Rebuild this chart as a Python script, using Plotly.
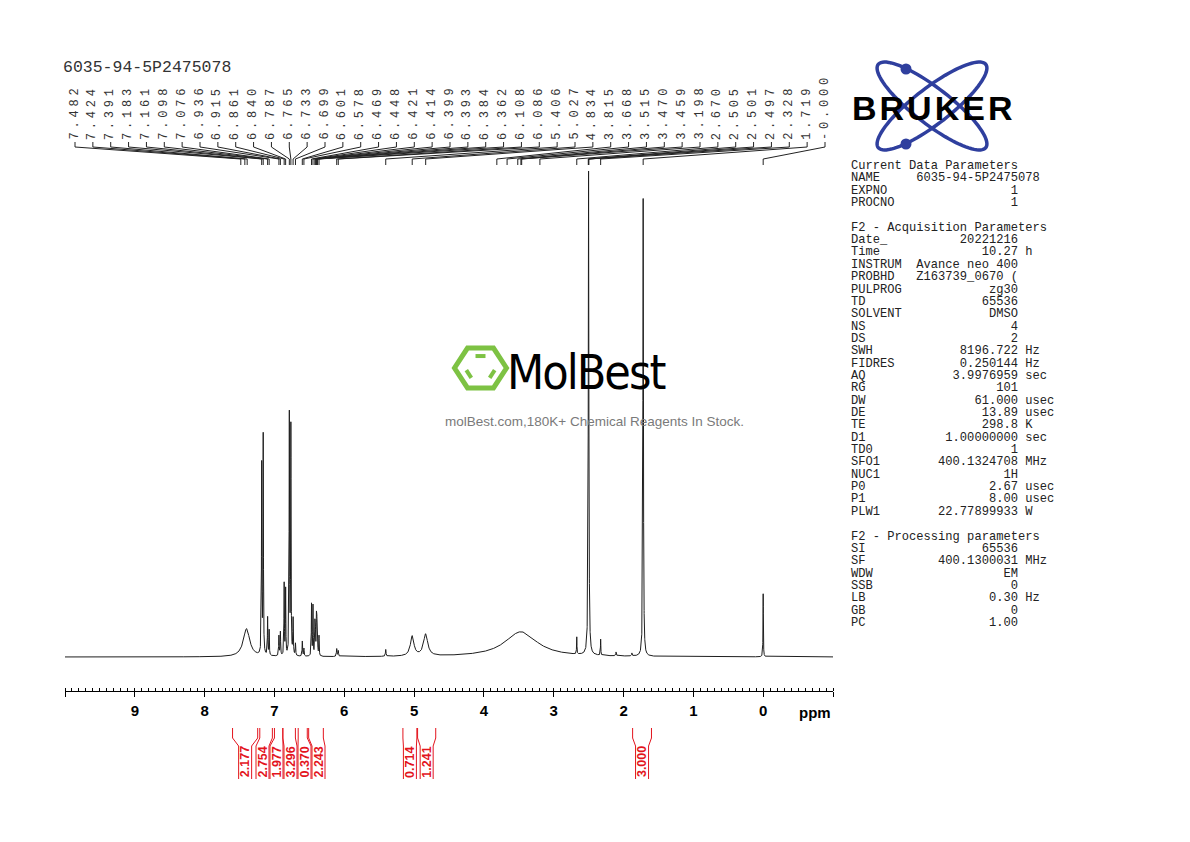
import numpy as np
import plotly.graph_objects as go

# ---------------- data ----------------
SAMPLE = "6035-94-5P2475078"

# modelled 1H spectrum: centre (ppm), height (DMSO peak = 100), half width (ppm)
peak_ppm = [7.400, 7.183, 7.161, 7.098, 7.076, 6.936, 6.915, 6.861, 6.840,
            6.787, 6.765, 6.733, 6.699, 6.601, 6.578, 6.469, 6.448, 6.421,
            6.414, 6.399, 6.393, 6.384, 6.362, 6.108, 6.086, 5.406, 5.027,
            4.834, 3.470, 2.670, 2.501, 2.328, 2.107, 1.880, 1.719, 0.000]
peak_height = [5.8, 39.0, 45.0, 7.8, 5.2, 4.1, 4.9, 14.8, 13.6,
               49.5, 47.0, 7.4, 2.5, 3.1, 1.6, 10.7, 10.3, 6.2,
               5.2, 7.0, 6.2, 4.5, 4.1, 1.6, 1.2, 1.4, 4.1,
               4.5, 5.2, 3.5, 99.8, 3.3, 0.8, 0.6, 94.4, 13.0]
peak_hwhm = [0.055, 0.0035, 0.0035, 0.0035, 0.0035, 0.004, 0.004, 0.0035, 0.0035,
             0.0035, 0.0035, 0.004, 0.004, 0.004, 0.004, 0.0035, 0.0035, 0.0035,
             0.0035, 0.0035, 0.0035, 0.0035, 0.0035, 0.005, 0.005, 0.005, 0.03,
             0.035, 0.28, 0.003, 0.005, 0.003, 0.005, 0.005, 0.0045, 0.003]

# picked peak labels (top)
pick_labels = ["7.482", "7.424", "7.391", "7.183", "7.161", "7.098", "7.076",
               "6.936", "6.915", "6.861", "6.840", "6.787", "6.765", "6.733",
               "6.699", "6.601", "6.578", "6.469", "6.448", "6.421", "6.414",
               "6.399", "6.393", "6.384", "6.362", "6.108", "6.086", "5.406",
               "5.027", "4.834", "3.815", "3.668", "3.515", "3.470", "3.459",
               "3.198", "2.670", "2.505", "2.501", "2.497", "2.328", "1.719",
               "-0.000"]

# integrals (bottom, red)
integ_start = [7.60, 7.21, 7.00, 6.88, 6.66, 6.51, 5.16, 4.95, 1.87]
integ_end = [7.24, 7.03, 6.88, 6.70, 6.53, 6.30, 4.96, 4.69, 1.60]
integ_values = ["2.177", "2.754", "1.977", "3.296", "0.370", "2.243",
                "0.714", "1.241", "3.000"]

axis_ticks = [9, 8, 7, 6, 5, 4, 3, 2, 1, 0]

param_rows = [
    ("Current Data Parameters",),
    ("NAME", "6035-94-5P2475078", ""),
    ("EXPNO", "1", ""),
    ("PROCNO", "1", ""),
    None,
    ("F2 - Acquisition Parameters",),
    ("Date_", "20221216", ""),
    ("Time", "10.27", "h"),
    ("INSTRUM", "Avance neo 400", ""),
    ("PROBHD", "Z163739_0670 (", ""),
    ("PULPROG", "zg30", ""),
    ("TD", "65536", ""),
    ("SOLVENT", "DMSO", ""),
    ("NS", "4", ""),
    ("DS", "2", ""),
    ("SWH", "8196.722", "Hz"),
    ("FIDRES", "0.250144", "Hz"),
    ("AQ", "3.9976959", "sec"),
    ("RG", "101", ""),
    ("DW", "61.000", "usec"),
    ("DE", "13.89", "usec"),
    ("TE", "298.8", "K"),
    ("D1", "1.00000000", "sec"),
    ("TD0", "1", ""),
    ("SFO1", "400.1324708", "MHz"),
    ("NUC1", "1H", ""),
    ("P0", "2.67", "usec"),
    ("P1", "8.00", "usec"),
    ("PLW1", "22.77899933", "W"),
    None,
    ("F2 - Processing parameters",),
    ("SI", "65536", ""),
    ("SF", "400.1300031", "MHz"),
    ("WDW", "EM", ""),
    ("SSB", "0", ""),
    ("LB", "0.30", "Hz"),
    ("GB", "0", ""),
    ("PC", "1.00", ""),
]

# ---------------- layout constants (pixels) ----------------
W, H = 1190, 842
PL, PR = 65, 833          # plot area left / right
PT, PB = 40, 691          # plot area top / bottom (axis line)
X_HI, X_LO = 10.0, -1.0
BASE_PY = 657             # baseline pixel row
PX_PER_UNIT = 4.85        # intensity unit -> pixels
RED = "#e3141d"
MONO = "Liberation Mono, DejaVu Sans Mono, monospace"
SANS = "Liberation Sans, Arial, sans-serif"


def px2ppm(px):
    return X_HI - (px - PL) * (X_HI - X_LO) / (PR - PL)


def ppm2px(p):
    return PL + (X_HI - p) * (PR - PL) / (X_HI - X_LO)


def xp(px):
    return (px - PL) / (PR - PL)


def yp(py):
    return (PB - py) / (PB - PT)


# ---------------- spectrum ----------------
xs = np.arange(X_LO, X_HI + 1e-9, 0.0005)
ys = np.zeros_like(xs)
for c, h, w in zip(peak_ppm, peak_height, peak_hwhm):
    ys += h / (1.0 + ((xs - c) / w) ** 2)

fig = go.Figure()
fig.add_trace(go.Scatter(x=xs, y=ys, mode="lines",
                         line=dict(color="#1e1e1e", width=1),
                         hoverinfo="skip", showlegend=False))

shapes = []
annotations = []

# ---------------- peak picking labels ----------------
n = len(pick_labels)
lab_px = np.linspace(75, 825, n)
for lbl, lx in zip(pick_labels, lab_px):
    pk = float(lbl)
    lx_ppm = px2ppm(lx)
    path = (f"M {lx_ppm},{yp(142)} L {lx_ppm},{yp(147)} "
            f"L {pk},{yp(159)} L {pk},{yp(165)}")
    shapes.append(dict(type="path", path=path, xref="x", yref="paper",
                       line=dict(color="#222222", width=1)))
    annotations.append(dict(
        x=xp(lx), y=yp(141), xref="paper", yref="paper",
        text=f'<span style="letter-spacing:3.8px">{lbl}</span>',
        textangle=-90, showarrow=False, xanchor="center", yanchor="bottom",
        borderpad=0, font=dict(family=MONO, size=12, color="#333333")))

# ---------------- integrals ----------------
mids = [ppm2px((a + b) / 2) for a, b in zip(integ_start, integ_end)]
GAP = 14.0


def spread(centers, gap):
    clusters = [[i] for i in range(len(centers))]

    def place(cl):
        m = np.mean([centers[i] for i in cl])
        k = len(cl)
        return [m + (j - (k - 1) / 2) * gap for j in range(k)]
    changed = True
    while changed:
        changed = False
        for i in range(len(clusters) - 1):
            a, b = place(clusters[i]), place(clusters[i + 1])
            if a[-1] + gap > b[0] + 1e-9:
                clusters[i] = clusters[i] + clusters[i + 1]
                del clusters[i + 1]
                changed = True
                break
    out = []
    for cl in clusters:
        out += place(cl)
    return out


lab_c = spread(mids, GAP)
HALF = 6.5
for s, e, val, c in zip(integ_start, integ_end, integ_values, lab_c):
    for edge, side in ((s, -1), (e, 1)):
        path = (f"M {edge},{yp(728)} L {edge},{yp(738)} "
                f"L {px2ppm(c + side * HALF)},{yp(746)} "
                f"L {px2ppm(c + side * HALF)},{yp(779)}")
        shapes.append(dict(type="path", path=path, xref="x", yref="paper",
                           line=dict(color=RED, width=1)))
    annotations.append(dict(
        x=px2ppm(c), y=yp(762), xref="x", yref="paper", text=val,
        textangle=-90, showarrow=False, xanchor="center", yanchor="middle",
        borderpad=0, font=dict(family=SANS, size=12.5, color=RED, weight="bold")))

# ---------------- title & ppm ----------------
annotations.append(dict(x=xp(61), y=yp(68), xref="paper", yref="paper",
                        text=SAMPLE, showarrow=False, xanchor="left",
                        yanchor="middle",
                        font=dict(family=MONO, size=16.5, color="#333333")))
annotations.append(dict(x=xp(815), y=yp(712), xref="paper", yref="paper",
                        text="ppm", showarrow=False, xanchor="center",
                        yanchor="middle",
                        font=dict(family=SANS, size=15, color="black",
                                  weight="bold")))

# ---------------- parameter block ----------------
NB = "\u00a0"
for i, row in enumerate(param_rows):
    if row is None:
        continue
    if len(row) == 1:
        s = row[0]
    else:
        name, val, unit = row
        s = name.ljust(9) + val.rjust(14)
        if unit:
            s += " " + unit
    annotations.append(dict(
        x=xp(850), y=yp(166 + i * 12.35), xref="paper", yref="paper",
        text=s.replace(" ", NB), showarrow=False, xanchor="left",
        yanchor="middle", borderpad=0,
        font=dict(family=MONO, size=12.1, color="#222222")))

# ---------------- Bruker logo ----------------
BLUE = "#2f3f9e"
cx, cy, a, b = 932, 106, 68, 18
t = np.linspace(0, 2 * np.pi, 90)
for th in (np.radians(37.7), np.radians(-37.7)):
    ex = cx + a * np.cos(t) * np.cos(th) - b * np.sin(t) * np.sin(th)
    ey = cy + a * np.cos(t) * np.sin(th) + b * np.sin(t) * np.cos(th)
    path = "M " + " L ".join(f"{xp(u)},{yp(v)}" for u, v in zip(ex, ey)) + " Z"
    shapes.append(dict(type="path", path=path, xref="paper", yref="paper",
                       line=dict(color=BLUE, width=3.5)))
for dx, dy in ((906, 69), (906, 144)):
    shapes.append(dict(type="circle", xref="paper", yref="paper",
                       x0=xp(dx - 5.5), x1=xp(dx + 5.5),
                       y0=yp(dy + 5.5), y1=yp(dy - 5.5),
                       fillcolor=BLUE, line=dict(color=BLUE, width=0)))
annotations.append(dict(
    x=xp(933), y=yp(108), xref="paper", yref="paper",
    text='<span style="letter-spacing:3px">BRUKER</span>', showarrow=False,
    xanchor="center", yanchor="middle", bgcolor="rgba(0,0,0,0)",
    font=dict(family=SANS, size=34, color="black", weight="bold")))

# ---------------- MolBest watermark ----------------
GREEN = "#7dc243"
hx, hy, rx, ry = 480.5, 368, 26, 23
ang = np.radians(np.arange(0, 360, 60))
vx = hx + rx * np.cos(ang)
vy = hy - ry * np.sin(ang)
path = "M " + " L ".join(f"{xp(u)},{yp(v)}" for u, v in zip(vx, vy)) + " Z"
shapes.append(dict(type="path", path=path, xref="paper", yref="paper",
                   line=dict(color=GREEN, width=5)))
for i0, i1 in ((1, 2), (3, 4), (5, 0)):
    ix = [hx + 0.6 * (vx[k] - hx) for k in (i0, i1)]
    iy = [hy + 0.6 * (vy[k] - hy) for k in (i0, i1)]
    sx0 = ix[0] + 0.18 * (ix[1] - ix[0]); sx1 = ix[1] - 0.18 * (ix[1] - ix[0])
    sy0 = iy[0] + 0.18 * (iy[1] - iy[0]); sy1 = iy[1] - 0.18 * (iy[1] - iy[0])
    shapes.append(dict(type="line", xref="paper", yref="paper",
                       x0=xp(sx0), y0=yp(sy0), x1=xp(sx1), y1=yp(sy1),
                       line=dict(color=GREEN, width=4)))
annotations.append(dict(
    x=xp(586), y=yp(372), xref="paper", yref="paper",
    text='<span style="letter-spacing:-2px">MolBest</span>',
    showarrow=False, xanchor="center", yanchor="middle",
    font=dict(family="Liberation Sans Narrow, DejaVu Sans Condensed, Roboto",
              size=48, color="black")))
annotations.append(dict(
    x=xp(594), y=yp(421), xref="paper", yref="paper",
    text="molBest.com,180K+ Chemical Reagents In Stock.", showarrow=False,
    xanchor="center", yanchor="middle",
    font=dict(family=SANS, size=13.5, color="#7a7a7a")))

# ---------------- axes & layout ----------------
y_lo = -(PB - BASE_PY) / PX_PER_UNIT
y_hi = (BASE_PY - PT) / PX_PER_UNIT
fig.update_layout(
    width=W, height=H,
    margin=dict(l=PL, r=W - PR, t=PT, b=H - PB, pad=0),
    paper_bgcolor="white", plot_bgcolor="white", showlegend=False,
    xaxis=dict(range=[X_HI, X_LO], showline=True, linecolor="black",
               linewidth=1, showgrid=False, zeroline=False,
               ticks="outside", ticklen=5, tickwidth=1, tickcolor="black",
               tickvals=[X_HI] + axis_ticks + [X_LO],
               ticktext=[""] + [str(v) for v in axis_ticks] + [""],
               tickfont=dict(family=SANS, size=15, color="black", weight="bold"),
               ticklabelstandoff=1,
               minor=dict(tickmode="linear", tick0=0, dtick=0.1,
                          ticks="inside", ticklen=3, tickwidth=1,
                          tickcolor="black", showgrid=False)),
    yaxis=dict(range=[y_lo, y_hi], visible=False, showgrid=False,
               zeroline=False),
    shapes=shapes, annotations=annotations,
)

fig.write_html("out.html")
